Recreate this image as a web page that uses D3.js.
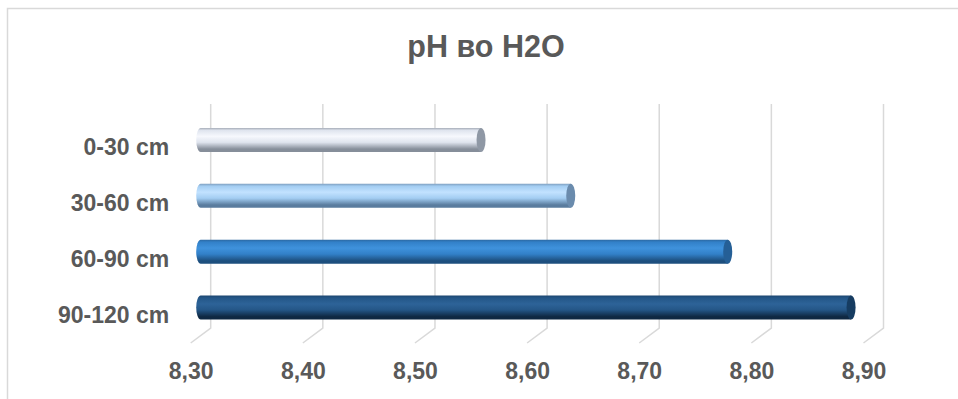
<!DOCTYPE html>
<html>
<head>
<meta charset="utf-8">
<script src="https://cdn.jsdelivr.net/npm/d3@7/dist/d3.min.js"></script>
<style>
  html, body { margin: 0; padding: 0; background: #fff; }
  svg { display: block; font-family: "Liberation Sans", Arial, sans-serif; }
</style>
</head>
<body>
<svg id="chart" width="958" height="399"></svg>
<script>
// Soil depth layers and their pH measured in water
const categories = ["0-30 cm", "30-60 cm", "60-90 cm", "90-120 cm"];
const phValues = [8.55, 8.63, 8.77, 8.88];
const tickValues = [8.30, 8.40, 8.50, 8.60, 8.70, 8.80, 8.90];
const chartTitle = "pH во H2O";

// Cylinder shading per layer: [edge, highlight, body, shadow, cap]
const barShades = [
  ["#a4abb6", "#f6f8fd", "#dfe4ee", "#868e9a", "#8f98a5"],
  ["#7f9fc0", "#c2e2ff", "#a3cdf2", "#5a7c9e", "#6a8bad"],
  ["#2b67a0", "#3f92dc", "#3280c8", "#1d4f7e", "#255f96"],
  ["#1d4670", "#2d6398", "#245687", "#0f2842", "#163c61"]
];

const svg = d3.select("#chart");
const W = 958, H = 399;

// Chart frame
svg.append("path")
  .attr("d", `M7.5,${H} V8.5 H${W}`)
  .attr("fill", "none")
  .attr("stroke", "#d9d9d9")
  .attr("stroke-width", 1.5);

// Title
svg.append("text")
  .attr("x", 486)
  .attr("y", 57)
  .attr("text-anchor", "middle")
  .attr("font-size", 30.5)
  .attr("font-weight", "bold")
  .attr("fill", "#595959")
  .text(chartTitle);

// Back wall plane scales; the floor recedes by a fixed depth offset
const x = d3.scaleLinear().domain([8.30, 8.90]).range([210.7, 883.5]);
const y = d3.scaleBand().domain(categories).range([104.5, 328]).padding(0);
const depth = { dx: -20, dy: 15 };      // back wall -> front edge
const mid = { dx: depth.dx / 2, dy: depth.dy / 2 }; // plane of the bars
const yTop = 104, yBottom = 328;

// Gridlines: vertical on the back wall, then slanting across the floor
svg.append("g")
  .selectAll("path")
  .data(tickValues)
  .join("path")
  .attr("d", d => `M${x(d)},${yTop} V${yBottom} l${depth.dx},${depth.dy}`)
  .attr("fill", "none")
  .attr("stroke", "#d9d9d9")
  .attr("stroke-width", 1.5);

// Value axis labels on the front edge of the floor
const commaFmt = v => d3.format(".2f")(v).replace(".", ",");
const xAxis = svg.append("g")
  .attr("transform", `translate(${depth.dx},${yBottom + depth.dy})`)
  .call(d3.axisBottom(x).tickValues(tickValues).tickFormat(commaFmt).tickSize(0).tickPadding(20));
xAxis.select(".domain").remove();
xAxis.selectAll("text")
  .attr("font-family", "\"Liberation Sans\", Arial, sans-serif")
  .attr("font-size", 23)
  .attr("font-weight", "bold")
  .attr("fill", "#595959");

// Category labels
svg.append("g")
  .selectAll("text")
  .data(categories)
  .join("text")
  .attr("x", x(8.30) + depth.dx - 21.5)
  .attr("y", d => y(d) + y.bandwidth() / 2 + depth.dy)
  .attr("dy", "0.35em")
  .attr("text-anchor", "end")
  .attr("font-size", 23)
  .attr("font-weight", "bold")
  .attr("fill", "#595959")
  .text(d => d);

// Gradients for the cylinder bodies
const defs = svg.append("defs");
barShades.forEach((s, i) => {
  const g = defs.append("linearGradient")
    .attr("id", "cyl" + i)
    .attr("x1", 0).attr("y1", 0).attr("x2", 0).attr("y2", 1);
  [[0, s[0]], [0.1, s[2]], [0.35, s[1]], [0.6, s[2]], [0.88, s[3]], [1, s[3]]]
    .forEach(([o, c]) => g.append("stop").attr("offset", o).attr("stop-color", c));
});

// Horizontal cylinders
const barH = y.bandwidth() * 0.43;
const rx = 4.5;
const bars = svg.append("g")
  .selectAll("g")
  .data(categories.map((c, i) => ({ cat: c, val: phValues[i], i })))
  .join("g");

bars.append("path")
  .attr("d", d => {
    const x0 = x(8.30) + mid.dx, x1 = x(d.val) + mid.dx;
    const cy = y(d.cat) + y.bandwidth() / 2 + mid.dy;
    const t = cy - barH / 2, b = cy + barH / 2;
    return `M${x1},${t} H${x0} A${rx},${barH / 2} 0 0 0 ${x0},${b} H${x1} Z`;
  })
  .attr("fill", d => `url(#cyl${d.i})`);

bars.append("ellipse")
  .attr("cx", d => x(d.val) + mid.dx)
  .attr("cy", d => y(d.cat) + y.bandwidth() / 2 + mid.dy)
  .attr("rx", rx)
  .attr("ry", barH / 2)
  .attr("fill", d => barShades[d.i][4]);
</script>
</body>
</html>
